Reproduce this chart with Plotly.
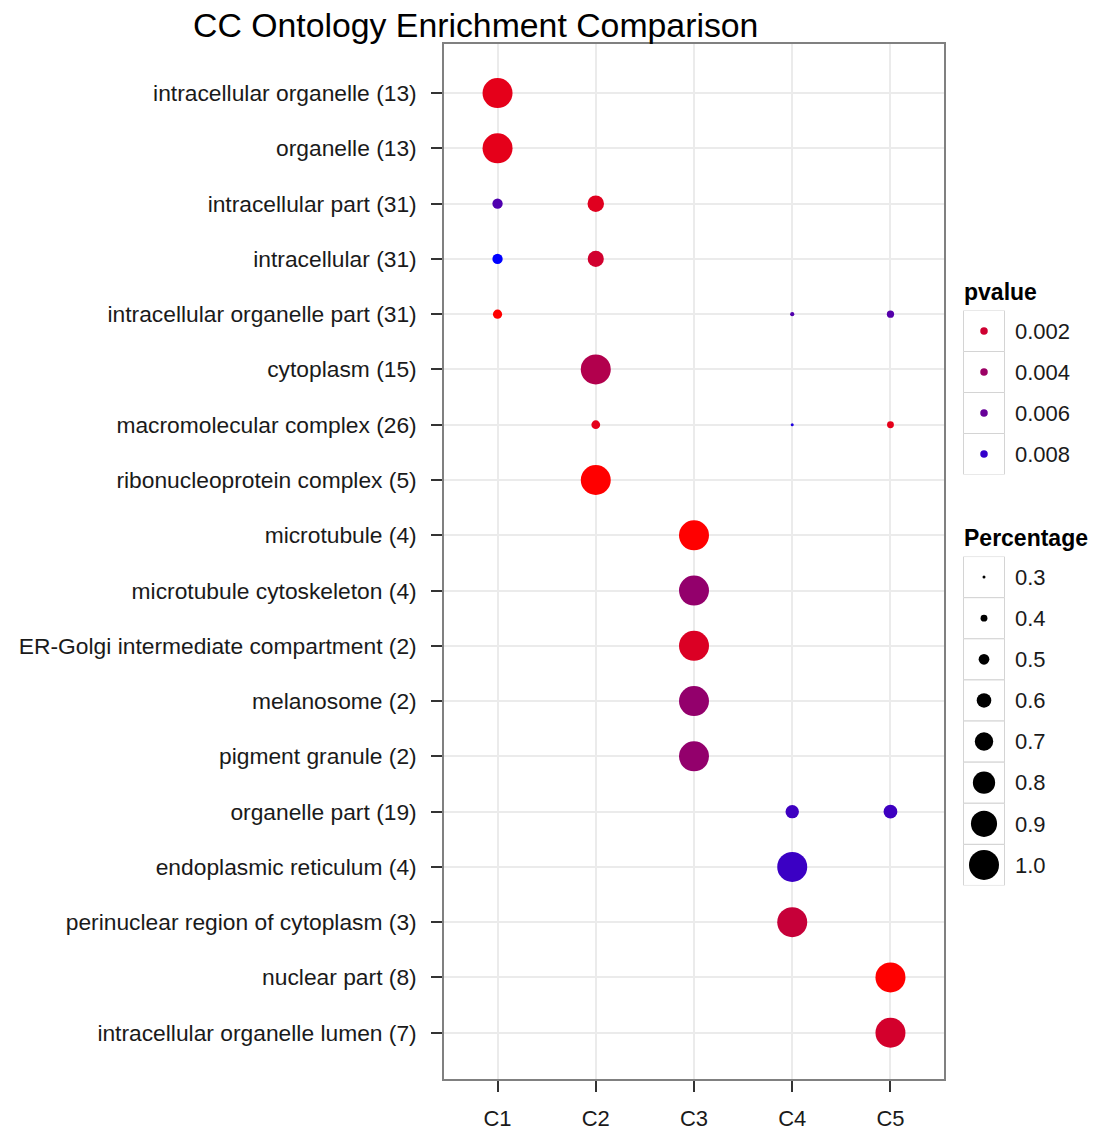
import plotly.graph_objects as go

# ---------------- data ----------------
clusters = ["C1", "C2", "C3", "C4", "C5"]
terms = [
    "intracellular organelle (13)",
    "organelle (13)",
    "intracellular part (31)",
    "intracellular (31)",
    "intracellular organelle part (31)",
    "cytoplasm (15)",
    "macromolecular complex (26)",
    "ribonucleoprotein complex (5)",
    "microtubule (4)",
    "microtubule cytoskeleton (4)",
    "ER-Golgi intermediate compartment (2)",
    "melanosome (2)",
    "pigment granule (2)",
    "organelle part (19)",
    "endoplasmic reticulum (4)",
    "perinuclear region of cytoplasm (3)",
    "nuclear part (8)",
    "intracellular organelle lumen (7)",
]

pt_term = [
    "intracellular organelle (13)",
    "organelle (13)",
    "intracellular part (31)", "intracellular part (31)",
    "intracellular (31)", "intracellular (31)",
    "intracellular organelle part (31)", "intracellular organelle part (31)", "intracellular organelle part (31)",
    "cytoplasm (15)",
    "macromolecular complex (26)", "macromolecular complex (26)", "macromolecular complex (26)",
    "ribonucleoprotein complex (5)",
    "microtubule (4)",
    "microtubule cytoskeleton (4)",
    "ER-Golgi intermediate compartment (2)",
    "melanosome (2)",
    "pigment granule (2)",
    "organelle part (19)", "organelle part (19)",
    "endoplasmic reticulum (4)",
    "perinuclear region of cytoplasm (3)",
    "nuclear part (8)",
    "intracellular organelle lumen (7)",
]
pt_cluster = [
    "C1",
    "C1",
    "C1", "C2",
    "C1", "C2",
    "C1", "C4", "C5",
    "C2",
    "C2", "C4", "C5",
    "C2",
    "C3",
    "C3",
    "C3",
    "C3",
    "C3",
    "C4", "C5",
    "C4",
    "C4",
    "C5",
    "C5",
]
pt_percentage = [
    1.00,
    1.00,
    0.49, 0.65,
    0.49, 0.64,
    0.46, 0.33, 0.41,
    1.00,
    0.45, 0.30, 0.40,
    1.00,
    1.00,
    1.00,
    1.00,
    1.00,
    1.00,
    0.57, 0.58,
    1.00,
    1.00,
    1.00,
    1.00,
]
pt_pvalue = [
    0.0011,
    0.0011,
    0.0069, 0.0013,
    0.0100, 0.0019,
    0.0001, 0.0068, 0.0067,
    0.0031,
    0.0011, 0.0088, 0.0011,
    0.0001,
    0.0001,
    0.0043,
    0.0015,
    0.0043,
    0.0043,
    0.0076, 0.0076,
    0.0077,
    0.0023,
    0.0001,
    0.0018,
]

pvalue_breaks = [0.002, 0.004, 0.006, 0.008]
pvalue_labels = ["0.002", "0.004", "0.006", "0.008"]
pct_breaks = [0.3, 0.4, 0.5, 0.6, 0.7, 0.8, 0.9, 1.0]
pct_labels = ["0.3", "0.4", "0.5", "0.6", "0.7", "0.8", "0.9", "1.0"]

# ---------------- scales ----------------
W, H = 1100, 1133
SIZE_MIN, SIZE_MAX = 3.0, 30.0
pct_lo, pct_hi = min(pt_percentage), max(pt_percentage)
p_lo, p_hi = min(pt_pvalue), max(pt_pvalue)
COLORSCALE = [[0.0, "#FF0000"], [1.0, "#0000FF"]]


def size_scale(v):
    return SIZE_MIN + (SIZE_MAX - SIZE_MIN) * (v - pct_lo) / (pct_hi - pct_lo)


FONT = "Arial, Liberation Sans, sans-serif"
TXT = "#1a1a1a"

# layout geometry (pixels)
ML, MR, MT, MB = 444, 0, 44, 54
PW = W - ML - MR
PH = H - MT - MB
panel_right = 943.5


def px_x(px):
    return (px - ML) / PW


def px_y(py):
    return (H - MB - py) / PH


fig = go.Figure()

# main dots
fig.add_trace(go.Scatter(
    x=pt_cluster, y=pt_term, mode="markers",
    marker=dict(
        size=[size_scale(v) for v in pt_percentage],
        sizemode="diameter",
        color=pt_pvalue, colorscale=COLORSCALE, cmin=p_lo, cmax=p_hi,
        line=dict(width=0), opacity=1,
    ),
    showlegend=False, hoverinfo="skip",
    xaxis="x", yaxis="y",
))

# legend: pvalue keys
key_box = dict(symbol="square", size=41, color="white", opacity=1,
               line=dict(color="#D4D4D4", width=1))
fig.add_trace(go.Scatter(
    x=["key"] * len(pvalue_labels), y=pvalue_labels, mode="markers",
    marker=key_box, showlegend=False, hoverinfo="skip", xaxis="x2", yaxis="y2",
))
fig.add_trace(go.Scatter(
    x=["key"] * len(pvalue_labels), y=pvalue_labels, mode="markers",
    marker=dict(size=7.5, color=pvalue_breaks, colorscale=COLORSCALE, cmin=p_lo, cmax=p_hi,
                line=dict(width=0), opacity=1),
    showlegend=False, hoverinfo="skip", xaxis="x2", yaxis="y2",
))
# legend: Percentage keys
fig.add_trace(go.Scatter(
    x=["key"] * len(pct_labels), y=pct_labels, mode="markers",
    marker=key_box, showlegend=False, hoverinfo="skip", xaxis="x2", yaxis="y3",
))
fig.add_trace(go.Scatter(
    x=["key"] * len(pct_labels), y=pct_labels, mode="markers",
    marker=dict(size=[size_scale(v) for v in pct_breaks], sizemode="diameter",
                color="#000000", line=dict(width=0), opacity=1),
    showlegend=False, hoverinfo="skip", xaxis="x2", yaxis="y3",
))

# rows of the legends (pixel centres measured)
pv_top, pv_bot = 310.5, 474.5
pc_top, pc_bot = 556.5, 885.5

fig.update_layout(
    width=W, height=H,
    margin=dict(l=ML, r=MR, t=MT, b=MB, pad=0),
    paper_bgcolor="white", plot_bgcolor="white",
    font=dict(family=FONT, color=TXT, size=22),
    title=dict(text="CC Ontology Enrichment Comparison", x=193 / W, xanchor="left",
               xref="container", yref="container", y=1 - 25 / H, yanchor="middle",
               font=dict(size=33.8, color="black", family=FONT)),
    xaxis=dict(
        domain=[0, px_x(panel_right)], type="category", categoryorder="array",
        categoryarray=clusters, range=[-0.545, 4.54],
        showgrid=True, gridcolor="#EBEBEB", gridwidth=1.5,
        showline=True, linecolor="#808080", linewidth=1.5, mirror=True,
        ticks="outside", ticklen=11, tickwidth=1.5, tickcolor="#333333",
        tickfont=dict(size=22, color=TXT), ticklabelstandoff=8,
        zeroline=False, fixedrange=True,
    ),
    yaxis=dict(
        domain=[0, 1], type="category", categoryorder="array",
        categoryarray=terms, range=[17.837, -0.888],
        showgrid=True, gridcolor="#EBEBEB", gridwidth=1.5,
        showline=True, linecolor="#808080", linewidth=1.5, mirror=True,
        ticks="outside", ticklen=11, tickwidth=1.5, tickcolor="#333333",
        tickfont=dict(size=22.8, color=TXT), ticklabelstandoff=10,
        zeroline=False, fixedrange=True,
    ),
    xaxis2=dict(
        domain=[px_x(963), px_x(1005)], type="category", range=[-0.5, 0.5],
        anchor="y3", showgrid=False, showline=False, showticklabels=False,
        ticks="", zeroline=False, fixedrange=True,
    ),
    yaxis2=dict(
        domain=[px_y(pv_bot), px_y(pv_top)], type="category", anchor="x2", side="right",
        categoryorder="array", categoryarray=pvalue_labels,
        range=[len(pvalue_labels) - 0.5, -0.5],
        showgrid=False, showline=False, ticks="", zeroline=False,
        tickfont=dict(size=22, color=TXT), ticklabelstandoff=9, fixedrange=True,
    ),
    yaxis3=dict(
        domain=[px_y(pc_bot), px_y(pc_top)], type="category", anchor="x2", side="right",
        categoryorder="array", categoryarray=pct_labels,
        range=[len(pct_labels) - 0.5, -0.5],
        showgrid=False, showline=False, ticks="", zeroline=False,
        tickfont=dict(size=22, color=TXT), ticklabelstandoff=9, fixedrange=True,
    ),
    annotations=[
        dict(text="<b>pvalue</b>", xref="paper", yref="paper", x=px_x(962), y=px_y(292),
             xanchor="left", yanchor="middle", showarrow=False,
             font=dict(size=23, color="black", family=FONT)),
        dict(text="<b>Percentage</b>", xref="paper", yref="paper", x=px_x(962), y=px_y(538),
             xanchor="left", yanchor="middle", showarrow=False,
             font=dict(size=23, color="black", family=FONT)),
    ],
    showlegend=False,
)

fig.write_html(
    "out.html",
    config={"displayModeBar": False},
    post_script="document.body.style.margin='0';document.body.style.padding='0';",
)
